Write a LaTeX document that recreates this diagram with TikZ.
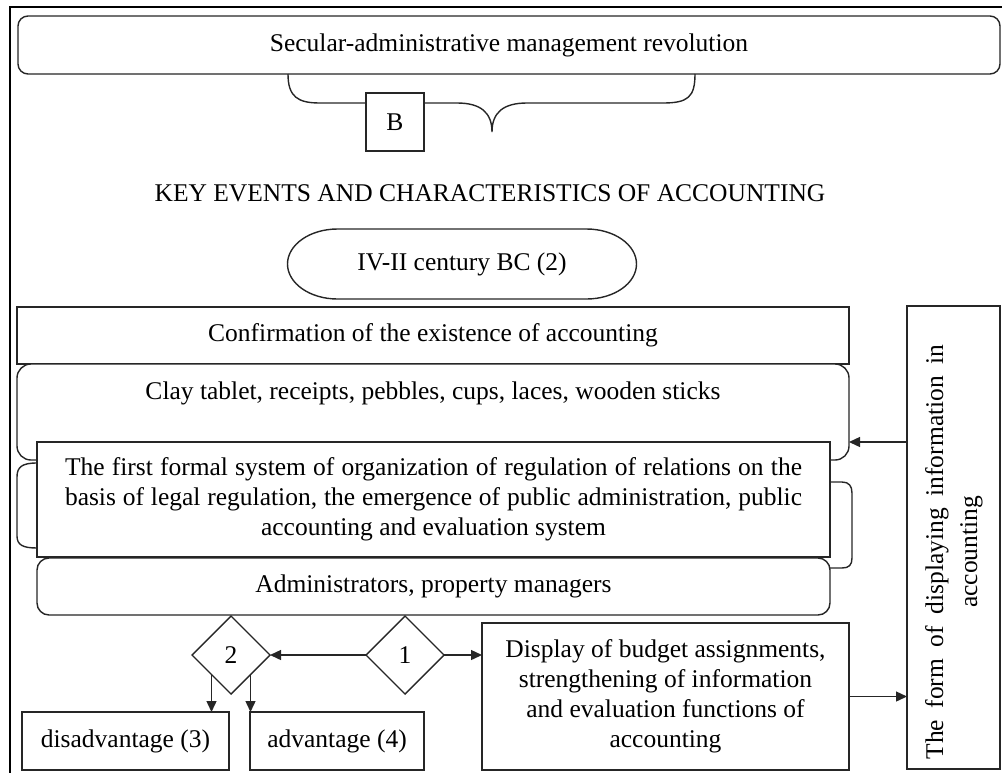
\documentclass[tikz,border=0pt]{standalone}
\usepackage{fontspec}
\setmainfont{Liberation Serif}
\usetikzlibrary{shapes.geometric,arrows.meta,calc}
\begin{document}
\begin{tikzpicture}[x=1pt,y=-1pt,
  every node/.style={font=\fontsize{25.5}{30}\selectfont, inner sep=0pt, outer sep=0pt},
  ln/.style={draw=black!85, line width=1.4pt},
  box/.style={ln, rectangle, fill=white},
  rbox/.style={ln, rectangle, rounded corners=#1, fill=white},
  dia/.style={ln, diamond, fill=white, minimum width=78pt, minimum height=78pt},
  arr/.style={ln, -{Triangle[length=11pt,width=10pt]}},
  frm/.style={draw=black, line width=2.2pt}]
\useasboundingbox (0,0) rectangle (1002,772);
% outer frame
\draw[frm] (10,775) -- (10,7) -- (1005,7);
% top box
\node[rbox=10pt, minimum width=982pt, minimum height=58pt] (top) at (509,45) {Secular-administrative management revolution};
% B box and brace
\node[box, minimum width=58pt, minimum height=58pt] (B) at (395,122) {B};
\coordinate (bl) at (288,74);
\coordinate (br) at (695,74);
\coordinate (tip) at (492,132);
\draw[ln] (bl) .. controls (288,97) and (298,103) .. (320,103) -- (B.west |- 0,103);
\draw[ln] (B.east |- 0,103) -- (457,103) .. controls (480,103) and (492,112) .. (tip)
  .. controls (492,112) and (504,103) .. (527,103) -- (663,103) .. controls (688,103) and (695,97) .. (br);
% title
\node (title) at (490,193) {KEY EVENTS AND CHARACTERISTICS OF ACCOUNTING};
% ellipse-like
\node[minimum width=349pt, minimum height=70pt] (ell) at (462,264) {IV-II century BC (2)};
\draw[ln] ($(ell.north west)+(50,0)$) -- ($(ell.north east)+(-50,0)$)
  arc[start angle=90, end angle=-90, x radius=50pt, y radius=35pt]
  -- ($(ell.south west)+(50,0)$)
  arc[start angle=270, end angle=90, x radius=50pt, y radius=35pt] -- cycle;
% confirmation
\node[box, minimum width=832pt, minimum height=57pt] (conf) at (433,335.5) {Confirmation of the existence of accounting};
% clay
\node[rbox=14pt, minimum width=832pt, minimum height=96pt] (clay) at (433,412) {};
\node (claytext) at (433,393) {Clay tablet, receipts, pebbles, cups, laces, wooden sticks};
% brackets
\draw[ln] (37,463) .. controls (22,463) and (17,467) .. (17,477) -- (17,536) .. controls (17,545) and (23,548) .. (37,548);
\draw[ln] (830,482) -- (842,482) .. controls (849,482) and (852,486) .. (852,493) -- (852,558) .. controls (852,565) and (849,568) .. (842,568) -- (830,568);
% first formal system
\node[box, minimum width=793pt, minimum height=115pt, align=center] (first) at (433.5,499.5)
  {\makebox[737pt][s]{The first formal system of organization of regulation of relations on the}\\
   \makebox[737pt][s]{basis of legal regulation, the emergence of public administration, public}\\
   accounting and evaluation system};
% administrators
\node[rbox=12pt, minimum width=793pt, minimum height=57pt] (admin) at (433.5,586.5) {Administrators, property managers};
% diamonds
\node[dia] (d2) at (231,655) {2};
\node[dia] (d1) at (405,655) {1};
% budget
\node[box, minimum width=367pt, minimum height=147pt, align=center] (budget) at (665.5,696.5)
  {Display of budget assignments,\\ strengthening of information\\ and evaluation functions of\\ accounting};
% form box
\node[box, minimum width=93pt, minimum height=463pt] (form) at (953.5,537.5) {};
\node[rotate=90, align=center, font=\fontsize{25.5}{34}\selectfont] (formtext) at (954,552)
  {\makebox[415pt][s]{The form of displaying information in}\\ accounting};
% bottom boxes
\node[box, minimum width=207pt, minimum height=58pt] (dis) at (125.5,741) {disadvantage (3)};
\node[box, minimum width=174pt, minimum height=58pt] (adv) at (337,741) {advantage (4)};
% arrows
\draw[arr] (d1.west) -- (d2.east);
\draw[arr] (d1.east) -- (d1.east -| budget.west);
\draw[arr] (budget.east) -- (budget.east -| form.west);
\draw[arr] (form.west |- 0,442) -- (clay.east |- 0,442);
\draw[arr] (d2.south west) -- (d2.south west |- dis.north);
\draw[arr] (d2.south east) -- (d2.south east |- adv.north);
\end{tikzpicture}
\end{document}
